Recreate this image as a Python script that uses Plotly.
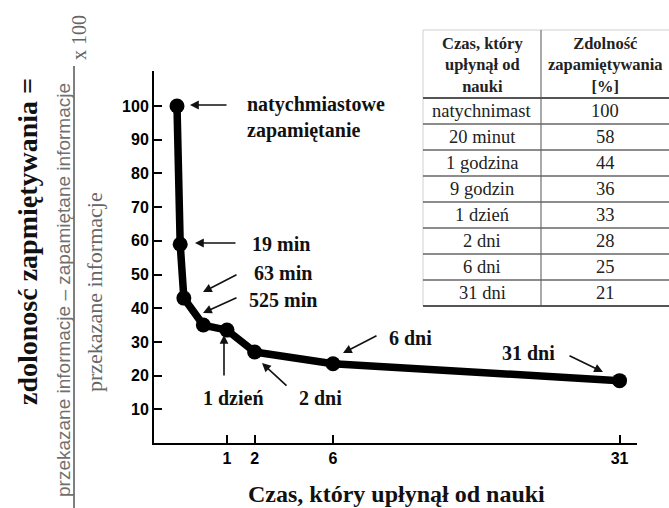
import plotly.graph_objects as go

# ---- data ----
time_minutes = [0, 19, 63, 525, 1440, 2880, 8640, 44640]
retention = [100, 59, 43, 35, 33.5, 27, 23.5, 18.5]
point_labels = ["natychmiastowe<br>zapamiętanie", "19 min", "63 min", "525 min",
                "1 dzień", "2 dni", "6 dni", "31 dni"]
x_tick_days = [1, 2, 6, 31]
x_tick_text = ["1", "2", "6", "31"]
y_ticks = [10, 20, 30, 40, 50, 60, 70, 80, 90, 100]

table_header = ["<b>Czas, który<br>upłynął od<br>nauki</b>", "<b>Zdolność<br>zapamiętywania<br>[%]</b>"]
table_times = ["natychnimast", "20 minut", "1 godzina", "9 godzin", "1 dzień", "2 dni", "6 dni", "31 dni"]
table_values = ["100", "58", "44", "36", "33", "28", "25", "21"]

# ---- scale (hand-drawn, compressed time axis) ----
P = 0.635
def u(days):
    return days ** P

days = [m / 1440 for m in time_minutes]
xs = [u(d) for d in days]

W, H = 669, 508
L, R, T, B = 154, 32, 71, 65
PW, PH = W - L - R, H - T - B
X0_PX, X_PER_U = 177, 50.0
Y_PER_V = PH / 110.4
xr = [(L - X0_PX) / X_PER_U, (W - R - X0_PX) / X_PER_U]
yr = [0, 110.4]

def px2u(px):
    return (px - X0_PX) / X_PER_U
def py2v(py):
    return (H - B - py) / Y_PER_V
def pxp(px):
    return (px - L) / PW
def pyp(py):
    return (H - B - py) / PH

fig = go.Figure()
fig.add_trace(go.Scatter(x=xs, y=retention, mode="lines+markers",
                         line=dict(color="black", width=7.5),
                         marker=dict(color="black", size=15),
                         hoverinfo="skip", showlegend=False))

TXT = "#111111"
SERIF = "Liberation Serif"
SANS = "Liberation Sans"

ann = []
# arrows (head px, tail px)
arrows = [((190, 105), (228, 105)), ((195, 243), (237, 243)), ((203, 292), (238, 274)),
          ((203, 313), (238, 297)), ((224, 335), (224, 377)), ((262, 363), (288, 387)),
          ((343, 353), (378, 335)), ((603, 372), (568, 355))]
for (h, t) in arrows:
    ann.append(dict(x=px2u(h[0]), y=py2v(h[1]), ax=px2u(t[0]), ay=py2v(t[1]),
                    xref="x", yref="y", axref="x", ayref="y", text="",
                    showarrow=True, arrowhead=2, arrowsize=1.1, arrowwidth=1.6,
                    arrowcolor="#111"))
# label positions (px, anchor)
label_pos = [(245, 117, "left"), (250, 244, "left"), (252, 273, "left"), (247, 300, "left"),
             (233, 398, "center"), (320, 398, "center"), (387, 338, "left"), (500, 353, "left")]
for txt, (px, py, anc) in zip(point_labels, label_pos):
    ann.append(dict(x=px2u(px), y=py2v(py), xref="x", yref="y", text="<b>%s</b>" % txt,
                    showarrow=False, xanchor=anc, yanchor="middle", align="left",
                    font=dict(family=SERIF, size=20, color=TXT)))

# x axis title
ann.append(dict(x=pxp(396), y=pyp(494), xref="paper", yref="paper",
                text="<b>Czas, który upłynął od nauki</b>", showarrow=False,
                xanchor="center", yanchor="middle",
                font=dict(family=SERIF, size=24, color=TXT)))
# y axis title pieces
ann.append(dict(x=pxp(27), y=pyp(242), xref="paper", yref="paper", textangle=-90,
                text="<b>zdolonosć zapmiętywania =</b>", showarrow=False,
                xanchor="center", yanchor="middle",
                font=dict(family=SERIF, size=28, color=TXT)))
ann.append(dict(x=pxp(63), y=pyp(290), xref="paper", yref="paper", textangle=-90,
                text="przekazane informacje – zapamiętane informacje", showarrow=False,
                xanchor="center", yanchor="middle",
                font=dict(family=SANS, size=19, color="#707070")))
ann.append(dict(x=pxp(94), y=pyp(292), xref="paper", yref="paper", textangle=-90,
                text="przekazane informacje", showarrow=False,
                xanchor="center", yanchor="middle",
                font=dict(family=SERIF, size=22, color="#666666")))
ann.append(dict(x=pxp(79), y=pyp(38), xref="paper", yref="paper", textangle=-90,
                text="x 100", showarrow=False,
                xanchor="center", yanchor="middle",
                font=dict(family=SERIF, size=20, color="#666666")))

shapes = []
# fraction bar
shapes.append(dict(type="line", xref="paper", yref="paper", x0=pxp(74), x1=pxp(74),
                   y0=pyp(66), y1=pyp(512), line=dict(color="#555", width=1.5)))

# table
TX0, TXM, TX1 = 423, 541, 672
TY0, TYH, ROW = 30, 98, 26
n = len(table_times)
TYB = TYH + ROW * n
shapes.append(dict(type="line", xref="paper", yref="paper", x0=pxp(TX0), x1=pxp(TX1),
                   y0=pyp(TY0), y1=pyp(TY0), line=dict(color="#d0d0d0", width=1)))
shapes.append(dict(type="line", xref="paper", yref="paper", x0=pxp(TX0), x1=pxp(TX0),
                   y0=pyp(TY0), y1=pyp(TYB), line=dict(color="#d0d0d0", width=1)))
shapes.append(dict(type="line", xref="paper", yref="paper", x0=pxp(TXM), x1=pxp(TXM),
                   y0=pyp(TY0), y1=pyp(TYB), line=dict(color="#555", width=1)))
for i in range(n + 1):
    yy = TYH + ROW * i
    shapes.append(dict(type="line", xref="paper", yref="paper", x0=pxp(TX0), x1=pxp(TX1),
                       y0=pyp(yy), y1=pyp(yy),
                       line=dict(color="#555" if i in (0, n) else "#666",
                                 width=2 if i in (0, n) else 1.5)))
cx = [(TX0 + TXM) / 2, (TXM + 669) / 2]
for j, htxt in enumerate(table_header):
    ann.append(dict(x=pxp(cx[j]), y=pyp((TY0 + TYH) / 2 + 1), xref="paper", yref="paper",
                    text=htxt, showarrow=False, xanchor="center", yanchor="middle",
                    align="center", font=dict(family=SERIF, size=16.5, color="#222")))
for i, (a, b) in enumerate(zip(table_times, table_values)):
    yc = TYH + ROW * i + ROW / 2
    ann.append(dict(x=pxp(cx[0]), y=pyp(yc), xref="paper", yref="paper", text=a,
                    showarrow=False, xanchor="center", yanchor="middle",
                    font=dict(family=SERIF, size=18.5, color="#222")))
    ann.append(dict(x=pxp(cx[1]), y=pyp(yc), xref="paper", yref="paper", text=b,
                    showarrow=False, xanchor="center", yanchor="middle",
                    font=dict(family=SERIF, size=18.5, color="#222")))

fig.update_layout(
    width=W, height=H, autosize=False,
    margin=dict(l=L, r=R, t=T, b=B, pad=0),
    paper_bgcolor="white", plot_bgcolor="white",
    annotations=ann, shapes=shapes, showlegend=False,
    xaxis=dict(range=xr, showline=True, linecolor="black", linewidth=2,
               showgrid=False, zeroline=False, ticks="inside", ticklen=8,
               tickwidth=1.5, tickcolor="black",
               tickvals=[u(d) for d in x_tick_days], ticktext=x_tick_text,
               tickfont=dict(family=SANS, size=16, color="black", weight="bold")),
    yaxis=dict(range=yr, showline=True, linecolor="black", linewidth=2,
               showgrid=False, zeroline=False, ticks="inside", ticklen=8,
               tickwidth=1.5, tickcolor="black", tickvals=y_ticks,
               tickfont=dict(family=SANS, size=16, color="black", weight="bold")),
)
fig.write_html("out.html", config={"displayModeBar": False},
               post_script="document.body.style.margin='0';")
